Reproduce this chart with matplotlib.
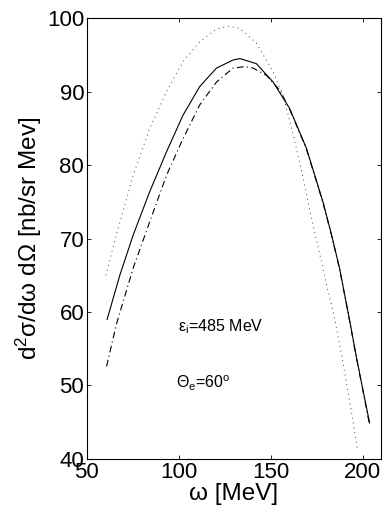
import numpy as np
import matplotlib
matplotlib.use('Agg')
import matplotlib.pyplot as plt

plt.rcParams['font.family'] = ['Liberation Sans', 'DejaVu Sans']
plt.rcParams['mathtext.default'] = 'regular'

# full calculation (solid)
w_full = [61, 67.9, 75.2, 84.2, 93.3, 102.3, 111.4, 120.5, 129.5, 133.2, 142.2,
          151.3, 160.3, 169.4, 178.4, 183, 187.5, 192.9, 196.5, 199.6, 203.8]
s_full = [59.0, 65.0, 70.5, 76.4, 81.8, 86.8, 90.7, 93.2, 94.3, 94.5, 93.8,
          91.3, 87.7, 82.3, 75.0, 70.6, 65.9, 58.9, 54.0, 50.1, 44.9]

# dash-dot curve
w_dd = [60.7, 66, 75.2, 84.2, 93.3, 102.3, 111.4, 120.5, 129.5, 136, 140.4,
        147.7, 154.9, 160.3, 169.4, 178.4, 183, 187.5, 192.9, 196.5, 199.6, 203.5]
s_dd = [52.6, 58.3, 66.0, 72.3, 78.6, 83.6, 88.2, 91.3, 93.2, 93.4, 93.2,
        92.2, 90.2, 87.6, 82.2, 74.9, 70.5, 65.8, 58.8, 53.9, 50.0, 45.0]

# dotted curve
w_dot = [60.3, 66.3, 75.2, 84.2, 93.3, 102.3, 111.4, 120.5, 127, 133.2, 142.2,
         151.3, 156.7, 162.1, 167, 172, 177, 181, 184.5, 188, 191.1, 194, 197]
s_dot = [65.0, 70.8, 78.6, 85.0, 90.0, 94.1, 96.8, 98.5, 98.9, 98.6, 96.6,
         92.7, 89.5, 84.3, 79.0, 73.0, 67.5, 63.0, 59.5, 54.9, 50.5, 46.3, 41.5]

fig = plt.figure(figsize=(3.88, 5.18), dpi=100)
ax = fig.add_axes([0.224, 0.114, 0.758, 0.851])

ax.plot(w_full, s_full, color='black', lw=0.8, ls='-')
ax.plot(w_dd, s_dd, color='black', lw=0.8, ls=(0, (6, 3, 1, 3)))
ax.plot(w_dot, s_dot, color='#444444', lw=0.7, ls=(0, (1, 4)))

ax.set_xlim(50, 210)
ax.set_ylim(40, 100)
ax.set_xticks([50, 100, 150, 200])
ax.set_yticks([40, 50, 60, 70, 80, 90, 100])
ax.tick_params(direction='in', top=True, right=True, length=3, width=0.6,
               labelsize=16, pad=2)
for sp in ax.spines.values():
    sp.set_linewidth(0.8)

ax.set_xlabel('ω [MeV]', fontsize=17.5, labelpad=0)
ax.set_ylabel('d$^2$σ/dω dΩ [nb/sr Mev]', fontsize=17.5, labelpad=2)

ax.text(99.5, 58, 'ε$_{i}$=485 MeV', fontsize=11.5, va='center')
ax.text(98.5, 50.3, 'Θ$_{e}$=60$^{o}$', fontsize=11.5, va='center')

fig.savefig('out.png', dpi=100)
